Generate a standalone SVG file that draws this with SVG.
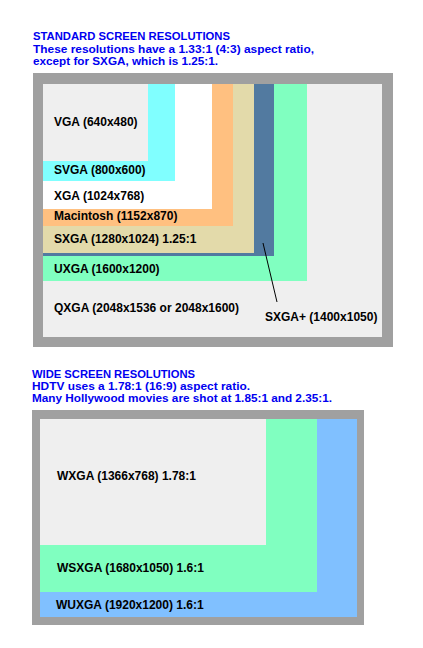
<svg xmlns="http://www.w3.org/2000/svg" width="423" height="648" viewBox="0 0 423 648">
<style>
.hd{font-family:"Liberation Sans",Arial,sans-serif;font-weight:bold;font-size:11.5px;fill:#0000f0}
.lb{font-family:"Liberation Sans",Arial,sans-serif;font-weight:bold;font-size:12px;fill:#000}
.frame{fill:#a0a0a0}
</style>
<rect width="423" height="648" fill="#fff"/>
<g id="header-standard">
<text class="hd" x="33" y="40" textLength="197" lengthAdjust="spacingAndGlyphs">STANDARD SCREEN RESOLUTIONS</text>
<text class="hd" x="33" y="52.5" textLength="281" lengthAdjust="spacingAndGlyphs">These resolutions have a 1.33:1 (4:3) aspect ratio,</text>
<text class="hd" x="33" y="64.5" textLength="185" lengthAdjust="spacingAndGlyphs">except for SXGA, which is 1.25:1.</text>
</g>
<g id="frame-standard"><rect class="frame" x="33" y="73" width="360" height="274"/></g>
<g id="QXGA"><rect x="43" y="84" width="339" height="253" fill="#efefef"/><text class="lb" x="54" y="312">QXGA (2048x1536 or 2048x1600)</text></g>
<g id="UXGA"><rect x="43" y="84" width="264" height="197" fill="#80ffc0"/><text class="lb" x="54" y="273">UXGA (1600x1200)</text></g>
<g id="SXGAplus"><rect x="43" y="84" width="231" height="172" fill="#527aa0"/><text class="lb" x="265" y="321">SXGA+ (1400x1050)</text></g>
<g id="SXGA"><rect x="43" y="84" width="211" height="169" fill="#e3daaa"/><text class="lb" x="54" y="243">SXGA (1280x1024) 1.25:1</text></g>
<g id="Macintosh"><rect x="43" y="84" width="190" height="142" fill="#ffc080"/><text class="lb" x="54" y="220">Macintosh (1152x870)</text></g>
<g id="XGA"><rect x="43" y="84" width="169" height="125" fill="#ffffff"/><text class="lb" x="54" y="200">XGA (1024x768)</text></g>
<g id="SVGA"><rect x="43" y="84" width="132" height="97" fill="#80ffff"/><text class="lb" x="54" y="174">SVGA (800x600)</text></g>
<g id="VGA"><rect x="43" y="84" width="105" height="77" fill="#efefef"/><text class="lb" x="54" y="126">VGA (640x480)</text></g>
<g id="connectors"><line x1="263" y1="243" x2="277" y2="302" stroke="#000" stroke-width="1"/></g>
<g id="header-wide">
<text class="hd" x="32" y="378" textLength="163" lengthAdjust="spacingAndGlyphs">WIDE SCREEN RESOLUTIONS</text>
<text class="hd" x="32" y="389.5" textLength="218" lengthAdjust="spacingAndGlyphs">HDTV uses a 1.78:1 (16:9) aspect ratio.</text>
<text class="hd" x="32" y="401.5" textLength="300" lengthAdjust="spacingAndGlyphs">Many Hollywood movies are shot at 1.85:1 and 2.35:1.</text>
</g>
<g id="frame-wide"><rect class="frame" x="32" y="410" width="332" height="215"/></g>
<g id="WUXGA"><rect x="40" y="419" width="317" height="198" fill="#80c0ff"/><text class="lb" x="56" y="609">WUXGA (1920x1200) 1.6:1</text></g>
<g id="WSXGA"><rect x="40" y="419" width="277" height="173" fill="#80ffc0"/><text class="lb" x="57" y="572">WSXGA (1680x1050) 1.6:1</text></g>
<g id="WXGA"><rect x="40" y="419" width="226" height="126" fill="#efefef"/><text class="lb" x="57" y="480">WXGA (1366x768) 1.78:1</text></g>
</svg>
